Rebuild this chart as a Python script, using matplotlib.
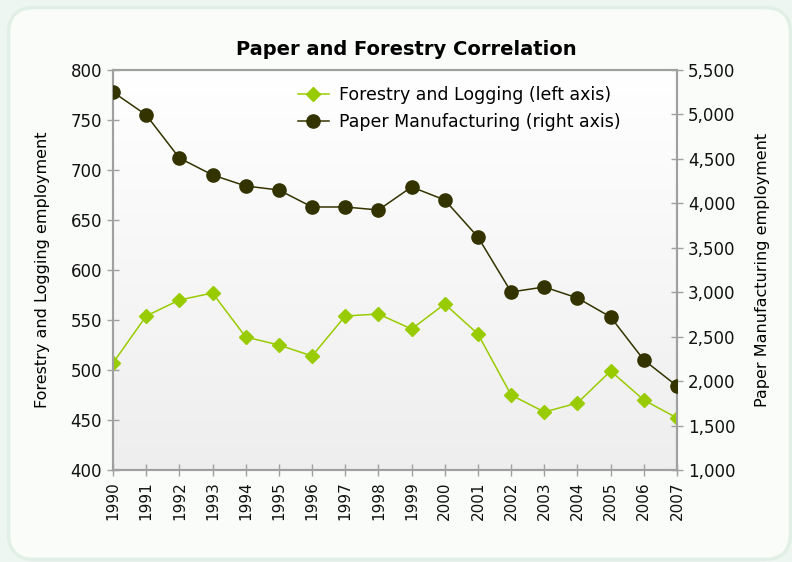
import matplotlib
matplotlib.use("Agg")
import matplotlib.pyplot as plt
import numpy as np
from matplotlib.patches import FancyBboxPatch
from matplotlib.ticker import FuncFormatter

years = [str(y) for y in range(1990, 2008)]
forestry = [507, 554, 570, 577, 533, 525, 514, 554, 556, 541, 566, 536, 475, 458, 467, 499, 470, 452]
paper = [5252, 4994, 4510, 4319, 4195, 4150, 3959, 3959, 3925, 4184, 4038, 3621, 3003, 3059, 2935, 2721, 2238, 1945]

plt.rcParams['font.family'] = ['DejaVu Sans']

W, H = 792, 562
fig = plt.figure(figsize=(W / 100, H / 100), dpi=100)
fig.patch.set_facecolor('#eef6f1')

bg = fig.add_axes([0, 0, 1, 1], zorder=-5)
bg.set_xlim(0, W)
bg.set_ylim(H, 0)
bg.axis('off')
bg.add_patch(FancyBboxPatch((8.5, 7.5), 782, 552,
                            boxstyle="round,pad=0,rounding_size=26",
                            facecolor='#fafcfa', edgecolor='#e1efe6', linewidth=2.5))

ax = fig.add_axes([113 / W, 1 - 470 / H, (677 - 113) / W, 400 / H])
ax.set_facecolor('none')
grad = np.linspace(0, 1, 256).reshape(-1, 1)
ax.imshow(grad, extent=[0, len(years) - 1, 400, 800], aspect='auto',
          cmap=matplotlib.colors.LinearSegmentedColormap.from_list('g', ['#ffffff', '#eeeeee']),
          origin='upper', zorder=0)

x = np.arange(len(years))
l1, = ax.plot(x, forestry, color='#99cc00', marker='D', markersize=7, linewidth=1.1,
              label='Forestry and Logging (left axis)', zorder=3)
ax.set_xlim(0, len(years) - 1)
ax.set_ylim(400, 800)
ax.set_yticks(range(400, 801, 50))
ax.set_xticks(x)
ax.set_xticklabels(years, rotation=90)
ax.set_ylabel('Forestry and Logging employment', fontsize=11.5, labelpad=15)

ax2 = ax.twinx()
l2, = ax2.plot(x, paper, color='#333300', marker='o', markersize=9.5, linewidth=1.1,
               label='Paper Manufacturing (right axis)', zorder=3)
ax2.set_ylim(1000, 5500)
ax2.set_yticks(range(1000, 5501, 500))
ax2.yaxis.set_major_formatter(FuncFormatter(lambda v, p: f'{int(v):,}'))
ax2.set_ylabel('Paper Manufacturing employment', fontsize=11.5, labelpad=14)

for a in (ax, ax2):
    for s in a.spines.values():
        s.set_color('#a0a0a0')
        s.set_linewidth(1.5)
    a.tick_params(direction='inout', length=9, width=1, color='#a0a0a0',
                  labelsize=12, labelcolor='#111111')
ax.tick_params(axis='x', labelsize=11)

ax.set_title('Paper and Forestry Correlation', fontsize=14, fontweight='bold', pad=11,
             x=0.52)

leg = ax.legend(handles=[l1, l2], loc='upper left', bbox_to_anchor=(0.3, 1.0),
                frameon=False, fontsize=12.5, handlelength=1.8, handletextpad=0.6,
                labelspacing=0.55)

fig.savefig('out.png', dpi=100, facecolor=fig.get_facecolor())
